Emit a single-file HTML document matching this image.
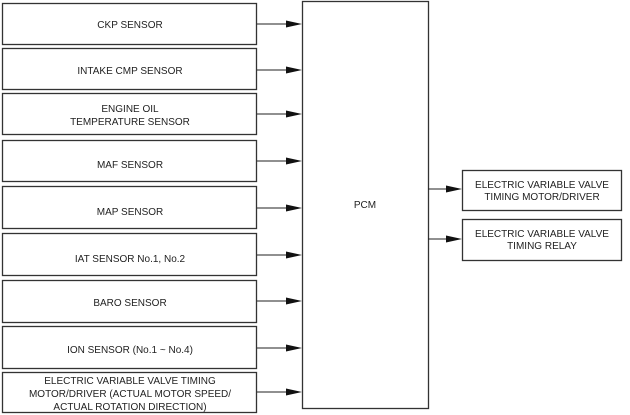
<!DOCTYPE html>
<html><head><style>
html,body{margin:0;padding:0;background:#fff;}
svg{display:block;}
text{font-family:"Liberation Sans",Arial,sans-serif;font-size:10px;fill:#222;text-anchor:middle;}
</style></head><body>
<svg width="630" height="415" viewBox="0 0 630 415">
<g fill="none" stroke="#333" stroke-width="1.3">
<rect x="2.5" y="3.5" width="254" height="41"/>
<rect x="2.5" y="48.5" width="254" height="41"/>
<rect x="2.5" y="93.5" width="254" height="41"/>
<rect x="2.5" y="140.5" width="254" height="41"/>
<rect x="2.5" y="186.5" width="254" height="42"/>
<rect x="2.5" y="233.5" width="254" height="42"/>
<rect x="2.5" y="280.5" width="254" height="42"/>
<rect x="2.5" y="326.5" width="254" height="42"/>
<rect x="2.5" y="372.5" width="254" height="40"/>
<rect x="302.5" y="1.5" width="126" height="407"/>
<rect x="462.5" y="170.5" width="159" height="40"/>
<rect x="462.5" y="219.5" width="159" height="41"/>
</g>
<g stroke="#222" stroke-width="1">
<line x1="257" y1="24" x2="288" y2="24"/>
<line x1="257" y1="70" x2="288" y2="70"/>
<line x1="257" y1="114" x2="288" y2="114"/>
<line x1="257" y1="161" x2="288" y2="161"/>
<line x1="257" y1="208" x2="288" y2="208"/>
<line x1="257" y1="255" x2="288" y2="255"/>
<line x1="257" y1="301" x2="288" y2="301"/>
<line x1="257" y1="348" x2="288" y2="348"/>
<line x1="257" y1="392" x2="288" y2="392"/>
<line x1="428" y1="189" x2="448" y2="189"/>
<line x1="428" y1="239" x2="448" y2="239"/>
</g>
<g fill="#111">
<polygon points="286,20.5 302,24 286,27.5"/>
<polygon points="286,66.5 302,70 286,73.5"/>
<polygon points="286,110.5 302,114 286,117.5"/>
<polygon points="286,157.5 302,161 286,164.5"/>
<polygon points="286,204.5 302,208 286,211.5"/>
<polygon points="286,251.5 302,255 286,258.5"/>
<polygon points="286,297.5 302,301 286,304.5"/>
<polygon points="286,344.5 302,348 286,351.5"/>
<polygon points="286,388.5 302,392 286,395.5"/>
<polygon points="446,185.5 462,189 446,192.5"/>
<polygon points="446,235.5 462,239 446,242.5"/>
</g>
<text x="130" y="28">CKP SENSOR</text>
<text x="130" y="74">INTAKE CMP SENSOR</text>
<text x="130" y="112">ENGINE OIL</text>
<text x="130" y="125">TEMPERATURE SENSOR</text>
<text x="130" y="168">MAF SENSOR</text>
<text x="130" y="215">MAP SENSOR</text>
<text x="130" y="262">IAT SENSOR No.1, No.2</text>
<text x="130" y="306">BARO SENSOR</text>
<text x="130" y="353">ION SENSOR (No.1 ~ No.4)</text>
<text x="130" y="384">ELECTRIC VARIABLE VALVE TIMING</text>
<text x="130" y="397">MOTOR/DRIVER (ACTUAL MOTOR SPEED/</text>
<text x="130" y="410">ACTUAL ROTATION DIRECTION)</text>
<text x="365" y="208">PCM</text>
<text x="542" y="188">ELECTRIC VARIABLE VALVE</text>
<text x="542" y="200">TIMING MOTOR/DRIVER</text>
<text x="542" y="237">ELECTRIC VARIABLE VALVE</text>
<text x="542" y="249">TIMING RELAY</text>
</svg>
</body></html>
